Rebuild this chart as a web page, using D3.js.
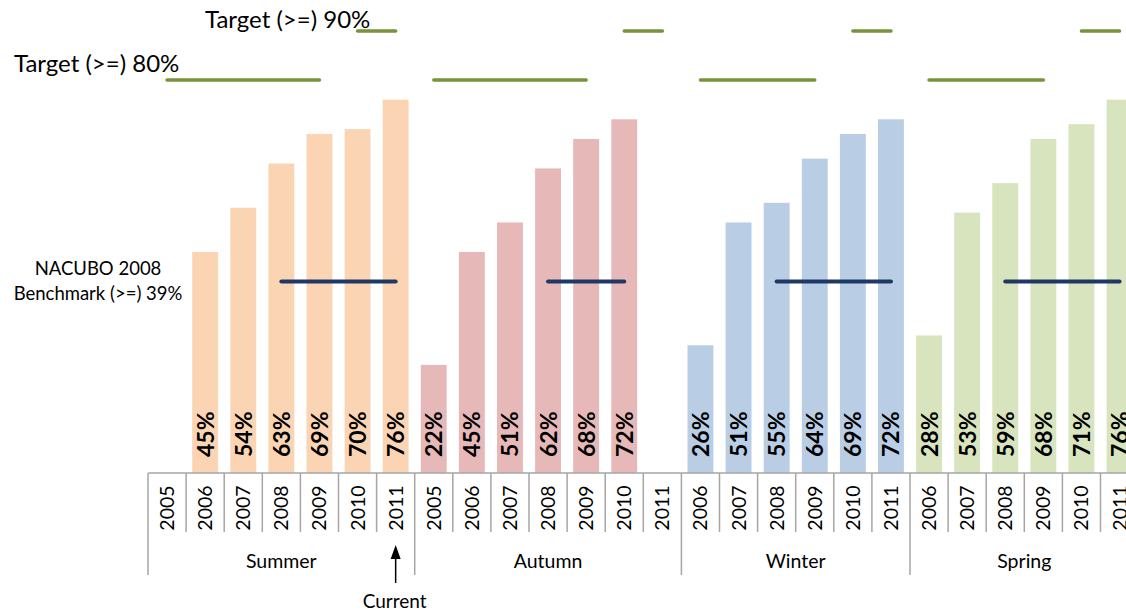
<!DOCTYPE html>
<html><head><meta charset="utf-8">
<script src="https://cdn.jsdelivr.net/npm/d3@7"></script>
<style>
html,body{margin:0;padding:0;background:#fff;}
svg{display:block;font-family:Lato,"Open Sans",sans-serif;}
</style></head>
<body>
<svg id="chart" width="1126" height="612"></svg>
<script>
// ---- data ----
const groups = ["Summer", "Autumn", "Winter", "Spring"];
const groupYears = [
  ["2005","2006","2007","2008","2009","2010","2011"],
  ["2005","2006","2007","2008","2009","2010","2011"],
  ["2006","2007","2008","2009","2010","2011"],
  ["2006","2007","2008","2009","2010","2011"]
];
const summerValues = [null, 45, 54, 63, 69, 70, 76];
const autumnValues = [22, 45, 51, 62, 68, 72, null];
const winterValues = [26, 51, 55, 64, 69, 72];
const springValues = [28, 53, 59, 68, 71, 76];
const target80 = [
  [80,80,80,80,80,null,null],
  [80,80,80,80,80,null,null],
  [80,80,80,80,null,null],
  [80,80,80,80,null,null]
];
const target90 = [
  [null,null,null,null,null,90,90],
  [null,null,null,null,null,90,90],
  [null,null,null,null,90,90],
  [null,null,null,null,90,90]
];
const benchmark = [
  [null,null,null,39,39,39,39],
  [null,null,null,39,39,39,null],
  [null,null,39,39,39,39],
  [null,null,39,39,39,39]
];
const groupColors = ["#FBD4B4", "#E6B9B8", "#B9CDE5", "#D7E4BD"];
const yTicks = [0, 100];

// ---- build slots ----
const values = [summerValues, autumnValues, winterValues, springValues];
const slots = [];
groups.forEach((g, gi) => {
  groupYears[gi].forEach((yr, yi) => {
    slots.push({id: gi + "-" + yi, group: g, gi, year: yr,
      value: values[gi][yi], t80: target80[gi][yi], t90: target90[gi][yi], bm: benchmark[gi][yi]});
  });
});

const svg = d3.select("#chart");
const baseY = 473;
const x = d3.scaleBand().domain(slots.map(d => d.id)).range([148, 148 + 38.1 * slots.length]).padding(0);
const y = d3.scaleLinear().domain(yTicks).range([baseY, baseY - 491.25]);
const bw = x.bandwidth();
const barW = bw * 0.68;
const cx = d => x(d.id) + bw / 2;

// bars
svg.append("g").selectAll("rect").data(slots.filter(d => d.value != null)).join("rect")
  .attr("x", d => cx(d) - barW / 2)
  .attr("y", d => y(d.value))
  .attr("width", barW)
  .attr("height", d => y(0) - y(d.value))
  .attr("fill", d => groupColors[d.gi]);

// data labels
svg.append("g").selectAll("text").data(slots.filter(d => d.value != null)).join("text")
  .attr("transform", d => `translate(${cx(d) + 8.5},${baseY - 16}) rotate(-90)`)
  .attr("text-anchor", "start")
  .attr("font-size", 23)
  .attr("font-weight", "bold")
  .attr("fill", "#000")
  .text(d => d.value + "%");

// lines
function drawLine(key, color, width) {
  const line = d3.line().defined(d => d[key] != null).x(cx).y(d => y(d[key]));
  groups.forEach((g, gi) => {
    svg.append("path").datum(slots.filter(d => d.gi === gi))
      .attr("d", line).attr("fill", "none")
      .attr("stroke", color).attr("stroke-width", width).attr("stroke-linecap", "round");
  });
}
drawLine("t80", "#77933C", 3.5);
drawLine("t90", "#77933C", 3.5);
drawLine("bm", "#1F3864", 4);

// axis
const axis = svg.append("g").attr("stroke", "#A6A6A6").attr("stroke-width", 1.5);
axis.append("line").attr("x1", 148).attr("x2", 1126).attr("y1", baseY).attr("y2", baseY);
slots.forEach((d, i) => {
  const isGroupStart = i === 0 || slots[i - 1].gi !== d.gi;
  axis.append("line").attr("x1", x(d.id)).attr("x2", x(d.id))
    .attr("y1", baseY).attr("y2", isGroupStart ? 575 : 532);
});
axis.append("line").attr("x1", x.range()[1]).attr("x2", x.range()[1]).attr("y1", baseY).attr("y2", 575);

// year labels
svg.append("g").selectAll("text").data(slots).join("text")
  .attr("transform", d => `translate(${cx(d) + 7},508) rotate(-90)`)
  .attr("text-anchor", "middle")
  .attr("font-size", 19.5)
  .attr("fill", "#000")
  .text(d => d.year);

// group labels
groups.forEach((g, gi) => {
  const s = slots.filter(d => d.gi === gi);
  const x0 = x(s[0].id), x1 = x(s[s.length - 1].id) + bw;
  svg.append("text").attr("x", (x0 + x1) / 2).attr("y", 568)
    .attr("text-anchor", "middle").attr("font-size", 19.5).text(g);
});

// annotations
svg.append("text").attr("x", 205).attr("y", 28).attr("font-size", 24).text("Target (>=) 90%");
svg.append("text").attr("x", 14).attr("y", 72).attr("font-size", 24).text("Target (>=) 80%");
svg.append("text").attr("x", 98).attr("y", 275).attr("text-anchor", "middle").attr("font-size", 18.5).text("NACUBO 2008");
svg.append("text").attr("x", 98).attr("y", 300).attr("text-anchor", "middle").attr("font-size", 18.5).text("Benchmark (>=) 39%");

// current arrow
const cur = slots[6];
const ax = cx(cur);
svg.append("line").attr("x1", ax).attr("x2", ax).attr("y1", 556).attr("y2", 583).attr("stroke", "#000").attr("stroke-width", 1.5);
svg.append("path").attr("d", `M${ax},545 L${ax - 5},559 L${ax + 5},559 Z`).attr("fill", "#000");
svg.append("text").attr("x", ax - 1).attr("y", 608).attr("text-anchor", "middle").attr("font-size", 19).text("Current");
</script>
</body></html>
